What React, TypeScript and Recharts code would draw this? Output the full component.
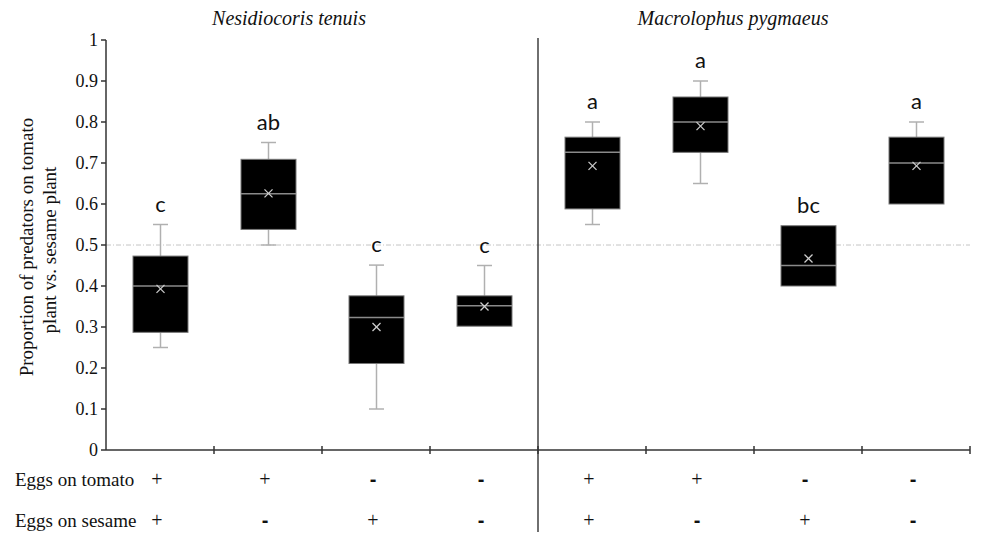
import React from 'react';
import { ComposedChart, Bar, XAxis, YAxis, ReferenceLine } from 'recharts';

const categories = ['Nt ++', 'Nt +-', 'Nt -+', 'Nt --', 'Mp ++', 'Mp +-', 'Mp -+', 'Mp --'];
const eggsOnTomato = ['+', '+', '-', '-', '+', '+', '-', '-'];
const eggsOnSesame = ['+', '-', '+', '-', '+', '-', '+', '-'];
const whiskerLow = [0.25, 0.5, 0.1, 0.3, 0.55, 0.65, 0.4, 0.6];
const q1 = [0.287, 0.538, 0.211, 0.302, 0.588, 0.726, 0.4, 0.6];
const median = [0.4, 0.625, 0.323, 0.352, 0.726, 0.8, 0.45, 0.7];
const mean = [0.393, 0.626, 0.3, 0.35, 0.693, 0.79, 0.467, 0.693];
const q3 = [0.473, 0.709, 0.376, 0.376, 0.763, 0.861, 0.547, 0.763];
const whiskerHigh = [0.55, 0.75, 0.451, 0.45, 0.8, 0.9, 0.547, 0.8];
const letters = ['c', 'ab', 'c', 'c', 'a', 'a', 'bc', 'a'];
const yTicks = [0, 0.1, 0.2, 0.3, 0.4, 0.5, 0.6, 0.7, 0.8, 0.9, 1];
const referenceValue = 0.5;
const groupSplit = 4;
const groupCount = 8;

const data = categories.map((name, i) => ({
  name,
  pos: i + 0.5,
  box: [q1[i], q3[i]],
  q1: q1[i],
  q3: q3[i],
  lo: whiskerLow[i],
  hi: whiskerHigh[i],
  med: median[i],
  mean: mean[i],
  letter: letters[i],
  tomato: eggsOnTomato[i],
  sesame: eggsOnSesame[i],
}));

const SERIF = '"Liberation Serif", "Times New Roman", serif';

const BoxShape = (props: any) => {
  const { x, y, width, height, payload } = props;
  if (x == null || y == null || !payload) return null;
  const top = Math.min(y, y + height);
  const h = Math.abs(height);
  const ppu = h / (payload.q3 - payload.q1);
  const py = (v: number) => top + (payload.q3 - v) * ppu;
  const cx = x + width / 2;
  const capHalf = 7.5;
  const wc = '#b0b0b0';
  const yHi = py(payload.hi);
  const yLo = py(payload.lo);
  const yMed = py(payload.med);
  const yMean = py(payload.mean);
  const bottom = top + h;
  const m = 4;
  return (
    <g>
      {payload.hi > payload.q3 + 1e-6 && (
        <g>
          <line x1={cx} x2={cx} y1={yHi} y2={top} stroke={wc} strokeWidth={1.5} />
          <line x1={cx - capHalf} x2={cx + capHalf} y1={yHi} y2={yHi} stroke={wc} strokeWidth={1.5} />
        </g>
      )}
      {payload.lo < payload.q1 - 0.005 && (
        <g>
          <line x1={cx} x2={cx} y1={bottom} y2={yLo} stroke={wc} strokeWidth={1.5} />
          <line x1={cx - capHalf} x2={cx + capHalf} y1={yLo} y2={yLo} stroke={wc} strokeWidth={1.5} />
        </g>
      )}
      <rect x={x} y={top} width={width} height={h} fill="#000" stroke="#777" strokeWidth={1} />
      <line x1={x} x2={x + width} y1={yMed} y2={yMed} stroke="#8a8a8a" strokeWidth={1.5} />
      <line x1={cx - m} x2={cx + m} y1={yMean - m} y2={yMean + m} stroke="#cfcfcf" strokeWidth={1.2} />
      <line x1={cx - m} x2={cx + m} y1={yMean + m} y2={yMean - m} stroke="#cfcfcf" strokeWidth={1.2} />
      <text
        x={cx}
        y={Math.min(yHi, top) - 13}
        textAnchor="middle"
        fontFamily="Lato, 'Open Sans', sans-serif"
        fontSize={22}
        fill="#111"
      >
        {payload.letter}
      </text>
    </g>
  );
};

const SignText = ({ x, y, s }: { x: number; y: number; s: string }) =>
  s === '+' ? (
    <text x={x} y={y} textAnchor="middle" fontFamily={SERIF} fontSize={20} fill="#111">+</text>
  ) : (
    <text x={x} y={y} textAnchor="middle" fontFamily="'Liberation Sans', sans-serif" fontWeight="bold" fontSize={20} fill="#111">-</text>
  );

const XTick = (props: any) => {
  const { x, y, payload, index } = props;
  const half = payload && payload.offset ? payload.offset : 54;
  const d = data[index] || data.find((e) => e.name === payload.value);
  return (
    <g>
      <line x1={x + half} x2={x + half} y1={y - 4} y2={y + 4} stroke="#333" strokeWidth={1.5} />
      {d && <SignText x={x - 3} y={y + 36} s={d.tomato} />}
      {d && <SignText x={x - 3} y={y + 77} s={d.sesame} />}
    </g>
  );
};

const yFmt = (v: number) => (v === 0 || v === 1 ? String(v) : v.toFixed(1));

export default function App() {
  return (
    <div style={{ position: 'absolute', left: 0, top: 0, width: 984, height: 533, background: '#fff' }}>
      <ComposedChart
        width={984}
        height={533}
        data={data}
        margin={{ top: 40, right: 14, bottom: 0, left: 46 }}
      >
        <XAxis
          dataKey="name"
          height={83}
          tickLine={false}
          tickSize={0}
          tickMargin={0}
          interval={0}
          axisLine={{ stroke: '#333', strokeWidth: 1.5 }}
          tick={<XTick />}
        />
        <XAxis xAxisId="div" dataKey="pos" type="number" domain={[0, groupCount]} allowDataOverflow hide />
        <YAxis
          domain={[0, 1]}
          ticks={yTicks}
          interval={0}
          width={60}
          tickSize={5}
          tickMargin={3}
          tickFormatter={yFmt}
          axisLine={{ stroke: '#333', strokeWidth: 1.5 }}
          tickLine={{ stroke: '#333', strokeWidth: 1.5 }}
          tick={{ fontFamily: SERIF, fontSize: 18, fill: '#111' }}
        />
        <ReferenceLine
          y={referenceValue}
          stroke="#c4c4c4"
          strokeDasharray="5 2 1 2"
          strokeWidth={1}
          zIndex={50}
        />
        <ReferenceLine
          xAxisId="div"
          segment={[{ x: groupSplit, y: 1.005 }, { x: groupSplit, y: -0.2 }]}
          ifOverflow="visible"
          stroke="#222"
          strokeWidth={1.3}
        />
        <Bar dataKey="box" barSize={55} isAnimationActive={false} shape={<BoxShape />} zIndex={300} />
      </ComposedChart>
      <svg width={984} height={533} style={{ position: 'absolute', left: 0, top: 0, pointerEvents: 'none' }}>
        <text x={289} y={25} textAnchor="middle" fontFamily={SERIF} fontStyle="italic" fontSize={20} fill="#111">
          Nesidiocoris tenuis
        </text>
        <text x={733} y={25} textAnchor="middle" fontFamily={SERIF} fontStyle="italic" fontSize={20} fill="#111">
          Macrolophus pygmaeus
        </text>
        <text x={15} y={486} fontFamily={SERIF} fontSize={19} fill="#111">Eggs on tomato</text>
        <text x={15} y={527} fontFamily={SERIF} fontSize={19} fill="#111">Eggs on sesame</text>
        <text transform="translate(33,247) rotate(-90)" textAnchor="middle" fontFamily={SERIF} fontSize={19} fill="#111">
          Proportion of predators on tomato
        </text>
        <text transform="translate(56,250) rotate(-90)" textAnchor="middle" fontFamily={SERIF} fontSize={19} fill="#111">
          plant vs. sesame plant
        </text>
      </svg>
    </div>
  );
}
